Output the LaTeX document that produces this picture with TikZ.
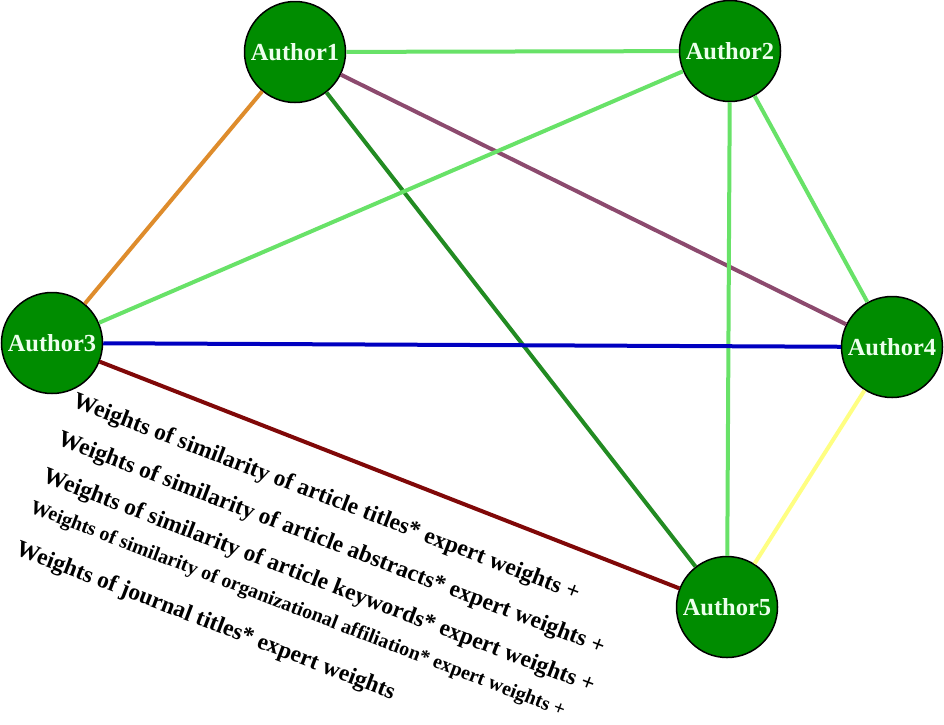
\documentclass[tikz,border=0pt]{standalone}
\usepackage{fontspec}
\setmainfont{Liberation Serif}
\definecolor{nodegreen}{RGB}{0,140,0}
\definecolor{lgreen}{RGB}{104,226,104}
\definecolor{eorange}{RGB}{222,140,44}
\definecolor{epurple}{RGB}{140,74,110}
\definecolor{edgreen}{RGB}{34,139,34}
\definecolor{eblue}{RGB}{0,0,192}
\definecolor{emaroon}{RGB}{128,8,8}
\definecolor{eyellow}{RGB}{255,255,130}
\definecolor{labelwhite}{RGB}{236,255,236}
\tikzset{
  author/.style={circle, draw=black, line width=1.5pt, fill=nodegreen, minimum size=101pt, inner sep=0pt,
    text=labelwhite, font=\fontsize{24.5}{29}\selectfont\bfseries},
  edge/.style={line width=4pt},
  formula/.style={anchor=base west, rotate=-21, inner sep=0pt, font=\fontsize{23.5}{28}\selectfont\bfseries},
  formulasmall/.style={anchor=base west, rotate=-21, inner sep=0pt, font=\fontsize{20}{24}\selectfont\bfseries}
}
\begin{document}
\begin{tikzpicture}[x=1pt,y=-1pt]
\useasboundingbox (0,0) rectangle (944,724);
\node[author] (a1) at (295,52) {Author1};
\node[author] (a2) at (730,51) {Author2};
\node[author] (a3) at (52,343) {Author3};
\node[author] (a4) at (892,347) {Author4};
\node[author] (a5) at (727,607) {Author5};
\draw[edge, lgreen] (a1) -- (a2);
\draw[edge, eorange] (a1) -- (a3);
\draw[edge, epurple] (a1) -- (a4);
\draw[edge, edgreen] (a1) -- (a5);
\draw[edge, lgreen] (a2) -- (a3);
\draw[edge, lgreen] (a2) -- (a4);
\draw[edge, lgreen] (a2) -- (a5);
\draw[edge, eblue] (a3) -- (a4);
\draw[edge, emaroon] (a3) -- (a5);
\draw[edge, eyellow] (a4) -- (a5);
\node[formula] (t1) at (71.5,406.5) {Weights of similarity of article titles* expert weights +};
\node[formula] (t2) at (56.5,444.5) {Weights of similarity of article abstracts* expert weights +};
\node[formula] (t3) at (41.5,481.5) {Weights of similarity of article keywords* expert weights +};
\node[formulasmall] (t4) at (29,512) {Weights of similarity of organizational affiliation* expert weights +};
\node[formula] (t5) at (14.5,554.5) {Weights of journal titles* expert weights};
\end{tikzpicture}
\end{document}
